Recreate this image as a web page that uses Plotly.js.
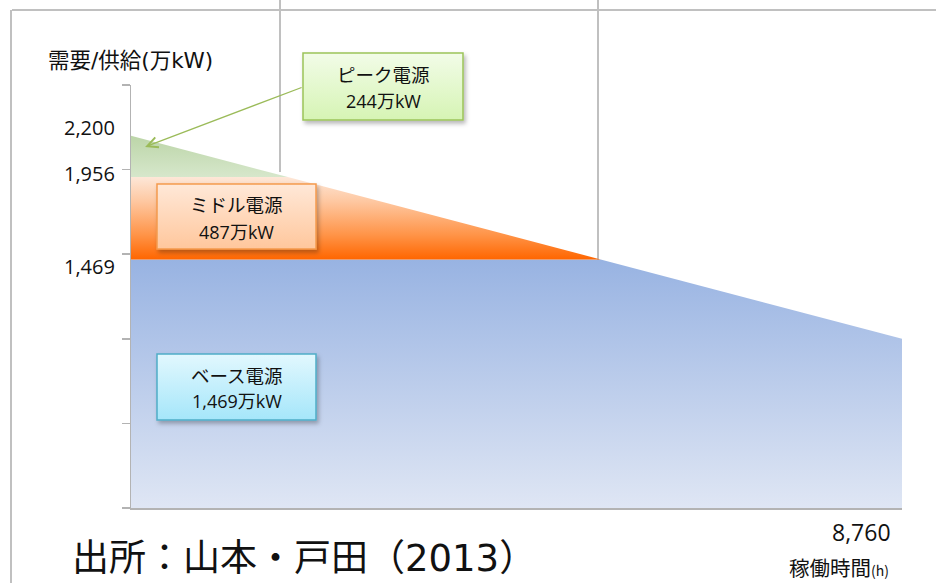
<!DOCTYPE html>
<html>
<head>
<meta charset="utf-8">
<script src="https://cdn.plot.ly/plotly-3.0.1.min.js"></script>
<style>
  html, body { margin: 0; padding: 0; background: #ffffff; }
  #chart { width: 936px; height: 583px; }
</style>
</head>
<body>
<div id="chart"></div>
<script>
// Load duration curve: demand over the hours of a year, split into supply tiers
const hours = [0, 8760];
const demand = [2200, 1000];                       // 万kW at start / end of year
const tierNames = ['ベース電源', 'ミドル電源', 'ピーク電源'];
const tierCapacity = [1469, 487, 244];             // 万kW
const tierCapacityLabels = ['1,469万kW', '487万kW', '244万kW'];
const levelLabels = ['1,469', '1,956', '2,200'];
const yTicks = [0, 500, 1000, 1500, 2000, 2500];
const xEndLabel = '8,760';

const baseTop = tierCapacity[0];
const midTop = baseTop + tierCapacity[1];
const peakTop = midTop + tierCapacity[2];
const levels = [baseTop, midTop, peakTop];

// hour at which the straight demand line falls to a given level
function hourAt(level) {
  return hours[0] + (demand[0] - level) / (demand[0] - demand[1]) * (hours[1] - hours[0]);
}

// plot-area geometry in pixels, used for paper-anchored decorations
const L = 131, R = 902, T = 85, B = 508;
const px = x => (x - L) / (R - L);
const py = y => (B - y) / (B - T);

const JP = '"Noto Sans CJK JP", sans-serif';
const MIX = '"Open Sans", "Noto Sans CJK JP", sans-serif';
const WIDE = '"DejaVu Sans", "Noto Sans CJK JP", sans-serif';
const INK = '#111111';

const base = {
  x: [hours[0], hourAt(baseTop), hours[1], hours[1], hours[0]],
  y: [baseTop, baseTop, demand[1], 0, 0],
  type: 'scatter', mode: 'lines', fill: 'toself',
  line: { width: 0, color: 'rgba(0,0,0,0)' },
  fillcolor: '#b4c7ea',
  fillgradient: { type: 'vertical', colorscale: [[0, '#dfe6f4'], [1, '#98b3e2']] },
  hoverinfo: 'skip', showlegend: false
};
const middle = {
  x: [hours[0], hourAt(midTop), hourAt(baseTop), hours[0]],
  y: [midTop, midTop, baseTop, baseTop],
  type: 'scatter', mode: 'lines', fill: 'toself',
  line: { width: 0, color: 'rgba(0,0,0,0)' },
  fillcolor: '#ffa768',
  fillgradient: { type: 'vertical', colorscale: [[0, '#ff6600'], [0.3, '#ff9448'], [0.7, '#fec7a0'], [1, '#fde7d8']] },
  hoverinfo: 'skip', showlegend: false
};
const peak = {
  x: [hours[0], hourAt(midTop), hours[0]],
  y: [peakTop, midTop, midTop],
  type: 'scatter', mode: 'lines', fill: 'toself',
  line: { width: 0, color: 'rgba(0,0,0,0)' },
  fillcolor: '#cadfbb',
  fillgradient: { type: 'vertical', colorscale: [[0, '#d6e7cb'], [1, '#bcd5a8']] },
  hoverinfo: 'skip', showlegend: false
};

const frame = { color: '#c0c0c0', width: 2 };
const shapes = [
  // outer frame and drop lines
  { type: 'line', xref: 'paper', yref: 'paper', x0: px(12), x1: px(936), y0: py(10), y1: py(10), line: frame, layer: 'below' },
  { type: 'line', xref: 'paper', yref: 'paper', x0: px(11), x1: px(11), y0: py(10), y1: py(583), line: frame, layer: 'below' },
  { type: 'line', xref: 'paper', yref: 'paper', x0: px(280), x1: px(280), y0: py(0), y1: py(172), line: frame, layer: 'below' },
  { type: 'line', xref: 'paper', yref: 'paper', x0: px(598), x1: px(598), y0: py(0), y1: py(260), line: frame, layer: 'below' },
  // tier label boxes (base, middle, peak)
  { type: 'rect', xref: 'paper', yref: 'paper', x0: px(157), x1: px(316), y0: py(354), y1: py(420),
    line: { color: '#4fadc8', width: 1.5 }, fillcolor: '#c3effc', layer: 'above' },
  { type: 'rect', xref: 'paper', yref: 'paper', x0: px(157), x1: px(316), y0: py(184), y1: py(249),
    line: { color: '#f59a4d', width: 1.5 }, fillcolor: '#ffd8ba', layer: 'above' },
  { type: 'rect', xref: 'paper', yref: 'paper', x0: px(303), x1: px(463), y0: py(53), y1: py(120),
    line: { color: '#9cc35a', width: 1.5 }, fillcolor: '#e4f8cf', layer: 'above' }
];
const boxGradients = [
  ['#e2f8fe', '#a5e6fa'],
  ['#ffe8d8', '#ffc79c'],
  ['#f2fce8', '#d6f4b4']
];

// text positions for each box: [centre x, name line y, capacity line y]
const boxText = [[236.5, 375, 400.5], [236.5, 203.5, 231.5], [383, 73.5, 101]];

const annotations = [];
tierNames.forEach((name, i) => {
  const [cx, y1, y2] = boxText[i];
  annotations.push({ xref: 'paper', yref: 'paper', x: px(cx), y: py(y1), xanchor: 'center', yanchor: 'middle',
    text: name, showarrow: false, font: { family: JP, size: 18.5, color: INK } });
  annotations.push({ xref: 'paper', yref: 'paper', x: px(cx), y: py(y2), xanchor: 'center', yanchor: 'middle',
    text: tierCapacityLabels[i], showarrow: false, font: { family: MIX, size: 18, color: INK } });
});

// level labels beside the y axis
const levelShift = [-7.5, 4, 8];
levels.forEach((v, i) => {
  annotations.push({ xref: 'paper', yref: 'y', x: px(117), y: v, yshift: levelShift[i],
    xanchor: 'right', yanchor: 'middle', text: levelLabels[i], showarrow: false,
    font: { family: MIX, size: 20, color: INK } });
});

// arrow from the peak box into the peak area
annotations.push({ xref: 'x', yref: 'y', x: 160, y: 2134, ax: 158, ay: -60, text: '',
  showarrow: true, arrowhead: 5, arrowsize: 1.6, arrowwidth: 1.3, arrowcolor: '#9bbb59', standoff: 0 });

// axis titles, end label and source
annotations.push({ xref: 'paper', yref: 'paper', x: px(46), y: py(61), xanchor: 'left', yanchor: 'middle',
  text: '需要/供給(万kW)', showarrow: false, font: { family: WIDE, size: 21.5, color: INK } });
annotations.push({ xref: 'paper', yref: 'paper', x: px(893), y: py(532), xanchor: 'right', yanchor: 'middle',
  text: xEndLabel, showarrow: false, font: { family: MIX, size: 23, color: INK } });
annotations.push({ xref: 'paper', yref: 'paper', x: px(891), y: py(567), xanchor: 'right', yanchor: 'middle',
  text: '稼働時間<span style="font-size:14px">(h)</span>', showarrow: false, font: { family: JP, size: 20.5, color: INK } });
annotations.push({ xref: 'paper', yref: 'paper', x: px(70), y: py(558), xanchor: 'left', yanchor: 'middle',
  text: '出所：山本・戸田（2013）', showarrow: false, font: { family: WIDE, size: 37, color: INK } });

const axisGray = '#b3b3b3';
const layout = {
  width: 936, height: 583,
  margin: { l: L, r: 936 - R, t: T, b: 583 - B, pad: 0 },
  paper_bgcolor: '#ffffff', plot_bgcolor: 'rgba(0,0,0,0)',
  showlegend: false,
  xaxis: { range: [hours[0], hours[1]], showgrid: false, zeroline: false, showticklabels: false,
    showline: true, linecolor: axisGray, linewidth: 1.5, ticks: '', fixedrange: true },
  yaxis: { range: [yTicks[0], yTicks[yTicks.length - 1]], showgrid: false, zeroline: false, showticklabels: false,
    showline: true, linecolor: axisGray, linewidth: 1.5, ticks: 'outside', ticklen: 8, tickwidth: 1.5,
    tickcolor: axisGray, tickmode: 'array', tickvals: yTicks, fixedrange: true },
  shapes: shapes,
  annotations: annotations
};

Plotly.newPlot('chart', [base, middle, peak], layout, { staticPlot: true, displayModeBar: false }).then(gd => {
  // vertical gradients and soft shadows for the label boxes
  const NS = 'http://www.w3.org/2000/svg';
  const defs = gd.querySelector('.main-svg defs');
  const filt = document.createElementNS(NS, 'filter');
  filt.setAttribute('id', 'boxShadow');
  filt.setAttribute('x', '-10%'); filt.setAttribute('y', '-10%');
  filt.setAttribute('width', '130%'); filt.setAttribute('height', '140%');
  const ds = document.createElementNS(NS, 'feDropShadow');
  ds.setAttribute('dx', '2'); ds.setAttribute('dy', '3'); ds.setAttribute('stdDeviation', '2');
  ds.setAttribute('flood-color', '#000'); ds.setAttribute('flood-opacity', '0.28');
  filt.appendChild(ds);
  defs.appendChild(filt);
  boxGradients.forEach((g, i) => {
    const lg = document.createElementNS(NS, 'linearGradient');
    lg.setAttribute('id', 'boxGrad' + i);
    lg.setAttribute('x1', '0'); lg.setAttribute('y1', '0');
    lg.setAttribute('x2', '0'); lg.setAttribute('y2', '1');
    g.forEach((c, k) => {
      const st = document.createElementNS(NS, 'stop');
      st.setAttribute('offset', k === 0 ? '0' : '1');
      st.setAttribute('stop-color', c);
      lg.appendChild(st);
    });
    defs.appendChild(lg);
    const path = gd.querySelector('path[data-index="' + (4 + i) + '"]');
    if (path) {
      path.style.fill = 'url(#boxGrad' + i + ')';
      path.style.fillOpacity = '1';
      path.setAttribute('filter', 'url(#boxShadow)');
    }
  });
});
</script>
</body>
</html>
